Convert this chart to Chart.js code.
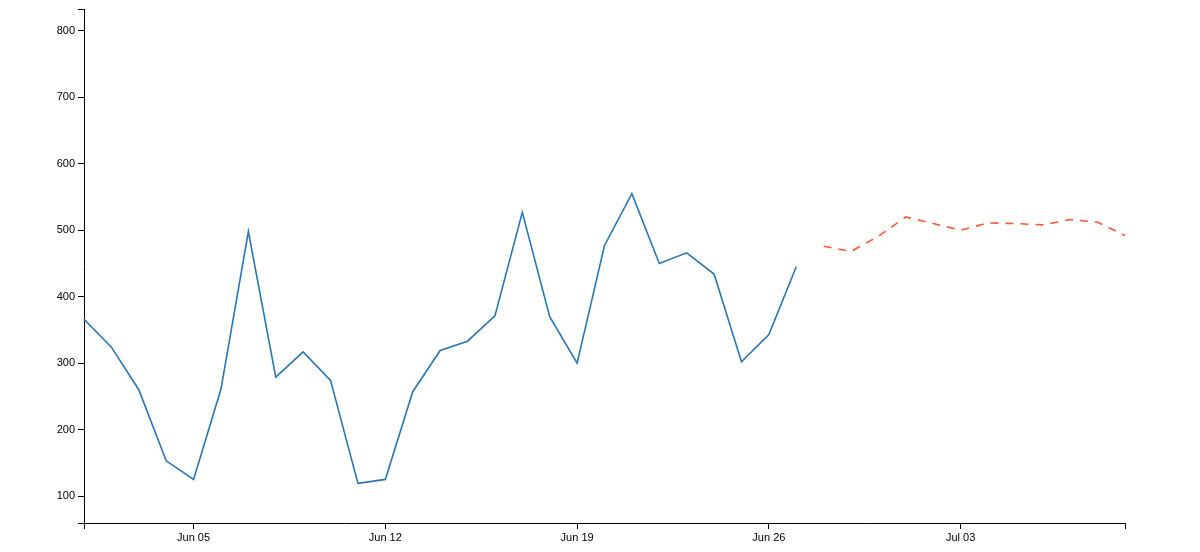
<!DOCTYPE html>
<html>
<head>
<meta charset="utf-8">
<script src="https://cdn.jsdelivr.net/npm/chart.js@4"></script>
<style>
  html, body { margin: 0; padding: 0; background: #fff; }
  #wrap { width: 1200px; height: 552px; }
</style>
</head>
<body>
<div id="wrap"><canvas id="chart" width="1200" height="552"></canvas></div>
<script>
// days Jun 01 .. Jul 09
const days = ["Jun 01","Jun 02","Jun 03","Jun 04","Jun 05","Jun 06","Jun 07","Jun 08","Jun 09","Jun 10",
  "Jun 11","Jun 12","Jun 13","Jun 14","Jun 15","Jun 16","Jun 17","Jun 18","Jun 19","Jun 20",
  "Jun 21","Jun 22","Jun 23","Jun 24","Jun 25","Jun 26","Jun 27","Jun 28","Jun 29","Jun 30",
  "Jul 01","Jul 02","Jul 03","Jul 04","Jul 05","Jul 06","Jul 07","Jul 08","Jul 09"];

// observed Jun 01 .. Jun 27
const actual = [366, 324, 260, 153, 125, 261, 498, 279, 317, 274,
  119, 125, 257, 319, 333, 371, 527, 370, 300, 477,
  555, 450, 466, 434, 302, 343, 445];

// forecast Jun 28 .. Jul 09
const forecast = [476, 468, 491, 520, 510, 500, 511, 510, 508, 516, 512, 492];

const xTickLabels = ["Jun 05", "Jun 12", "Jun 19", "Jun 26", "Jul 03"];
const yTickValues = [100, 200, 300, 400, 500, 600, 700, 800];
const yMin = 59.4, yMax = 832;

const actualData = days.map((d, i) => i < actual.length ? actual[i] : null);
const forecastData = days.map((d, i) => {
  const j = i - actual.length - 0;
  return j >= 0 && j < forecast.length ? forecast[j] : null;
});

const fontSpec = { family: "'Liberation Sans', Arial, Helvetica, sans-serif", size: 11 };

new Chart(document.getElementById('chart').getContext('2d'), {
  type: 'line',
  data: {
    labels: days,
    datasets: [{
      data: actualData,
      borderColor: '#2a76b3',
      borderWidth: 1.6,
      pointRadius: 0,
      tension: 0,
      spanGaps: false
    }, {
      data: forecastData,
      borderColor: '#ff5533',
      borderWidth: 1.6,
      borderDash: [8, 7],
      pointRadius: 0,
      tension: 0,
      spanGaps: false
    }]
  },
  options: {
    responsive: false,
    animation: false,
    layout: { padding: { top: 9, right: 75, left: 0, bottom: 0 } },
    plugins: { legend: { display: false }, tooltip: { enabled: false } },
    scales: {
      x: {
        type: 'category',
        offset: false,
        afterBuildTicks: (s) => {
          s.ticks = s.ticks.filter(t => t.value === 0 || t.value === days.length - 1 ||
            xTickLabels.includes(days[t.value]));
        },
        afterFit: (s) => { s.height = 29; },
        ticks: {
          autoSkip: false,
          maxRotation: 0,
          color: '#000',
          font: fontSpec,
          padding: 2,
          callback: function (v) {
            const lab = days[v];
            return xTickLabels.includes(lab) ? lab : '';
          }
        },
        grid: { drawOnChartArea: false, drawTicks: true, tickLength: 6, color: '#000', lineWidth: 1 },
        border: { display: true, color: '#000', width: 1 }
      },
      y: {
        type: 'linear',
        min: yMin,
        max: yMax,
        afterBuildTicks: (s) => {
          s.ticks = [yMin].concat(yTickValues, [yMax]).map(v => ({ value: v }));
        },
        afterFit: (s) => { s.width = 84; },
        ticks: {
          color: '#000',
          font: fontSpec,
          padding: 3,
          callback: (v) => yTickValues.includes(v) ? String(v) : ''
        },
        grid: { drawOnChartArea: false, drawTicks: true, tickLength: 6, color: '#000', lineWidth: 1 },
        border: { display: true, color: '#000', width: 1 }
      }
    }
  }
});
</script>
</body>
</html>
